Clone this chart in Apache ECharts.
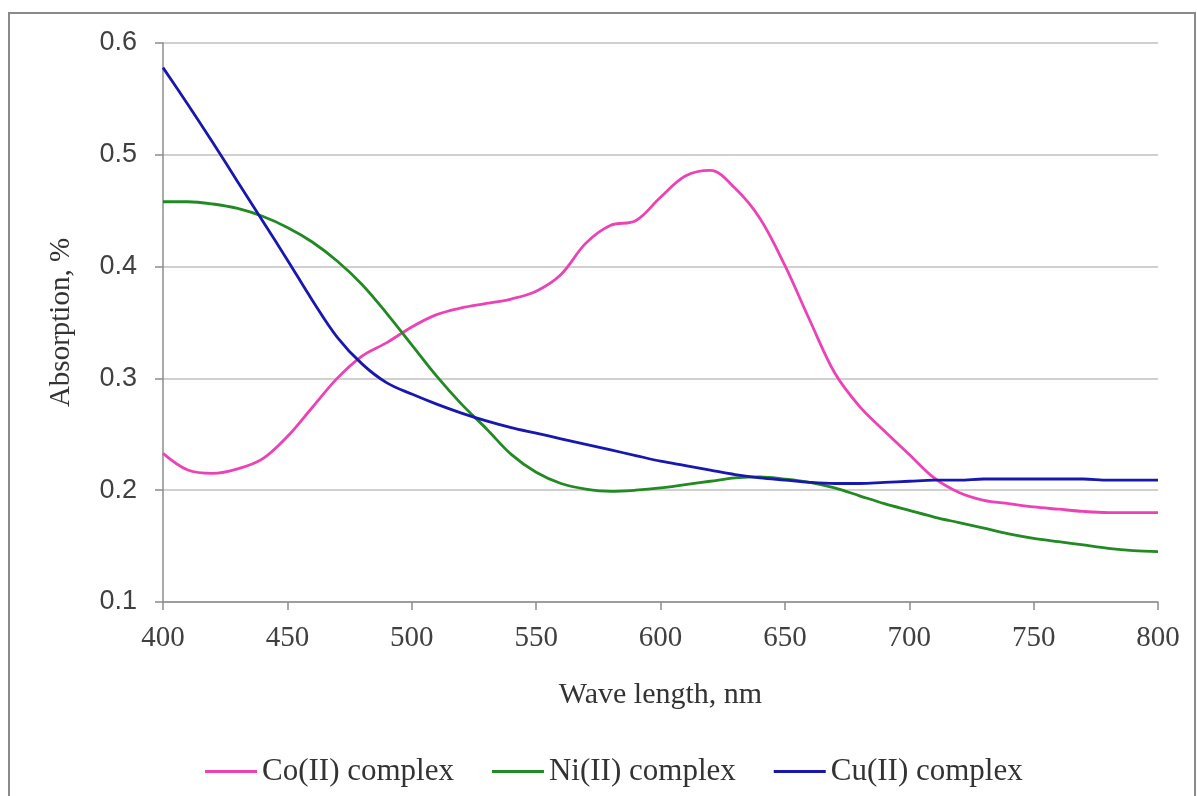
<!DOCTYPE html>
<html>
<head>
<meta charset="utf-8">
<title>Absorption spectra</title>
<script src="https://cdn.jsdelivr.net/npm/echarts@6/dist/echarts.min.js"></script>
<style>
  html, body { margin: 0; padding: 0; background: #fff; }
  #chart { width: 1197px; height: 796px; }
</style>
</head>
<body>
<div id="chart"></div>
<script>
// wavelength, nm
const wavelengths = [400, 410, 420, 430, 440, 450, 460, 470, 480, 490,
  500, 510, 520, 530, 540, 550, 560, 570, 580, 590,
  600, 610, 620, 630, 640, 650, 660, 670, 680, 690,
  700, 710, 720, 730, 740, 750, 760, 770, 780, 790, 800]

const coValues = [0.233, 0.218, 0.215, 0.219, 0.228, 0.248, 0.274, 0.300, 0.320, 0.332,
  0.346, 0.357, 0.363, 0.367, 0.371, 0.378, 0.393, 0.421, 0.437, 0.441,
  0.462, 0.481, 0.486, 0.470, 0.443, 0.401, 0.352, 0.305, 0.275, 0.253,
  0.232, 0.211, 0.198, 0.191, 0.188, 0.185, 0.183, 0.181, 0.180, 0.180, 0.180]

const niValues = [0.458, 0.458, 0.456, 0.452, 0.445, 0.435, 0.422, 0.405, 0.384, 0.358,
  0.330, 0.302, 0.277, 0.255, 0.232, 0.216, 0.206, 0.201, 0.199, 0.200,
  0.202, 0.205, 0.208, 0.211, 0.212, 0.210, 0.207, 0.202, 0.195, 0.188,
  0.182, 0.176, 0.171, 0.166, 0.161, 0.157, 0.154, 0.151, 0.148, 0.146, 0.145]

const cuValues = [0.578, 0.545, 0.511, 0.476, 0.441, 0.406, 0.370, 0.337, 0.313, 0.296,
  0.286, 0.277, 0.269, 0.262, 0.256, 0.251, 0.246, 0.241, 0.236, 0.231,
  0.226, 0.222, 0.218, 0.214, 0.211, 0.209, 0.207, 0.206, 0.206, 0.207,
  0.208, 0.209, 0.209, 0.210, 0.210, 0.210, 0.210, 0.210, 0.209, 0.209, 0.209]

const seriesNames = ['Co(II) complex', 'Ni(II) complex', 'Cu(II) complex']
const seriesColors = ['#ec42b6', '#228a22', '#1818b0']

const pair = (ys) => wavelengths.map((x, i) => [x, ys[i]])

const myChart = echarts.init(document.getElementById('chart'))

myChart.setOption({
  animation: false,
  backgroundColor: '#fff',
  graphic: [{
    type: 'rect',
    shape: { x: 9, y: 13, width: 1186, height: 800 },
    style: { fill: 'none', stroke: '#8a8a8a', lineWidth: 2 },
    z: -1
  }],
  grid: { left: 163, top: 43, right: 39, bottom: 194 },
  legend: {
    left: 200,
    top: 751,
    icon: 'rect',
    itemWidth: 52,
    itemHeight: 3,
    itemGap: 38,
    textStyle: { fontFamily: 'Liberation Serif', fontSize: 31, color: '#333' },
    data: seriesNames
  },
  xAxis: {
    type: 'value',
    min: 400,
    max: 800,
    interval: 50,
    name: 'Wave length, nm',
    nameLocation: 'middle',
    nameGap: 78,
    nameTextStyle: { fontFamily: 'Liberation Serif', fontSize: 30, color: '#333' },
    axisLine: { show: true, lineStyle: { color: '#8c8c8c', width: 1.5 } },
    axisTick: { show: true, length: 8, lineStyle: { color: '#8c8c8c', width: 1.5 } },
    axisLabel: { margin: 22, fontFamily: 'Liberation Serif', fontSize: 29, color: '#404040' },
    splitLine: { show: false }
  },
  yAxis: {
    type: 'value',
    min: 0.1,
    max: 0.6,
    interval: 0.1,
    name: 'Absorption, %',
    nameLocation: 'middle',
    nameGap: 87,
    nameTextStyle: { fontFamily: 'Liberation Serif', fontSize: 29, color: '#333' },
    axisLine: { show: true, lineStyle: { color: '#8c8c8c', width: 1.5 } },
    axisTick: { show: true, length: 8, lineStyle: { color: '#8c8c8c', width: 1.5 } },
    axisLabel: {
      margin: 26,
      fontFamily: 'Liberation Sans',
      fontSize: 27,
      color: '#404040',
      formatter: (v) => v.toFixed(1)
    },
    splitLine: { show: true, lineStyle: { color: '#c0c0c0', width: 1.5 } }
  },
  series: [coValues, niValues, cuValues].map((ys, i) => ({
    name: seriesNames[i],
    type: 'line',
    data: pair(ys),
    smooth: 0.35,
    showSymbol: false,
    color: seriesColors[i],
    lineStyle: { width: 2.8, color: seriesColors[i] }
  }))
})
</script>
</body>
</html>
